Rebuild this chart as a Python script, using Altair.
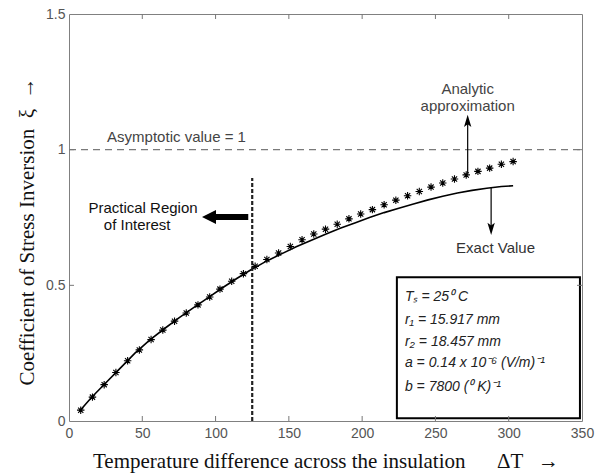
import altair as alt
import pandas as pd

# ---- data ----
x_exact = [7, 15, 25, 35, 45, 55, 65, 75, 85, 95, 105, 115, 125, 135, 145, 155,
           165, 175, 185, 195, 205, 215, 225, 235, 245, 255, 265, 275, 285, 295, 303]
y_exact = [0.035, 0.085, 0.140, 0.195, 0.250, 0.298, 0.340, 0.380, 0.418, 0.455,
           0.492, 0.527, 0.560, 0.590, 0.616, 0.642, 0.665, 0.688, 0.710, 0.730,
           0.750, 0.768, 0.784, 0.800, 0.815, 0.828, 0.840, 0.850, 0.858, 0.864, 0.867]

x_analytic = [8, 16, 24, 32, 40, 48, 56, 64, 72, 80, 88, 96, 103, 111, 119, 127, 135,
              143, 151, 159, 167, 175, 183, 191, 199, 207, 215, 223, 231, 239, 247,
              255, 263, 271, 279, 287, 295, 303]
y_analytic = [0.040, 0.088, 0.134, 0.179, 0.222, 0.262, 0.300, 0.335, 0.368, 0.398,
              0.428, 0.457, 0.486, 0.515, 0.543, 0.570, 0.595, 0.619, 0.643, 0.668,
              0.689, 0.707, 0.725, 0.745, 0.763, 0.779, 0.797, 0.814, 0.830, 0.846,
              0.862, 0.877, 0.892, 0.907, 0.920, 0.932, 0.946, 0.956]

x_ticks = [0, 50, 100, 150, 200, 250, 300, 350]
y_ticks = [0, 0.5, 1, 1.5]
x_inner_ticks = [50, 100, 150, 200, 250, 300]
y_inner_ticks = [0.5, 1]

asymptote = 1
practical_limit = 125

box_lines = ["Tₛ = 25⁰ C", "r₁ = 15.917 mm", "r₂ = 18.457 mm",
             "a = 0.14 x 10⁻⁶ (V/m)⁻¹", "b = 7800 (⁰ K)⁻¹"]
box_line_y = [0.458, 0.372, 0.292, 0.214, 0.125]

X_TITLE = "Temperature difference across the insulation\u2003\u2002ΔT\u2002\u2009→"
Y_TITLE = "Coefficient of Stress Inversion\u2002ξ\u2002→"

W, H = 513, 407

xs = alt.Scale(domain=[0, 350], nice=False, zero=False)
ys = alt.Scale(domain=[0, 1.5], nice=False, zero=False)

X_AXIS = alt.Axis(
    values=x_ticks, title=X_TITLE, grid=False, domain=False, ticks=False, tickSize=0,
    labelFont="Liberation Sans", labelFontSize=14, labelColor="#555",
    labelPadding=5, labelFlush=False,
    titleFont="Liberation Serif", titleFontSize=21, titleFontWeight="normal",
    titleColor="#111", titleY=46, titleBaseline="alphabetic")
Y_AXIS = alt.Axis(
    values=y_ticks, format=".1~f", title=Y_TITLE, grid=False, domain=False,
    ticks=False, tickSize=0,
    labelFont="Liberation Sans", labelFontSize=14, labelColor="#555",
    labelPadding=4, labelFlush=False,
    titleFont="Liberation Serif", titleFontSize=21, titleFontWeight="normal",
    titleColor="#111", titleX=-36, titleY=217, titleBaseline="alphabetic")

def X(field="x"):
    return alt.X(f"{field}:Q", scale=xs, axis=X_AXIS)

def Y(field="y"):
    return alt.Y(f"{field}:Q", scale=ys, axis=Y_AXIS)

df_exact = pd.DataFrame({"x": x_exact, "y": y_exact})
df_an = pd.DataFrame({"x": x_analytic, "y": y_analytic})

exact = alt.Chart(df_exact).mark_line(color="black", strokeWidth=1.6).encode(x=X(), y=Y())

ASTERISK = "M-1,0L1,0M0,-1L0,1M-0.7,-0.7L0.7,0.7M-0.7,0.7L0.7,-0.7"
analytic = alt.Chart(df_an).mark_point(
    shape=ASTERISK, filled=False, color="black", strokeWidth=1.1, size=56, opacity=1
).encode(x=X(), y=Y())

# asymptote
hline = alt.Chart(pd.DataFrame({"x": [0], "x2": [350], "y": [asymptote]})).mark_rule(
    color="#7a7a7a", strokeDash=[7, 5], strokeWidth=1.2
).encode(x=X(), x2="x2:Q", y=Y())

# practical region boundary
vline = alt.Chart(pd.DataFrame({"x": [practical_limit], "y": [0], "y2": [0.896]})).mark_rule(
    color="#222", strokeDash=[4, 2], strokeWidth=2.2
).encode(x=X(), y=Y(), y2="y2:Q")

# thick left arrow
big_body = alt.Chart(pd.DataFrame({"x": [96], "x2": [122.3], "y": [0.752]})).mark_rule(
    color="black", strokeWidth=6
).encode(x=X(), x2="x2:Q", y=Y())
big_head = alt.Chart(pd.DataFrame({"x": [95.5], "y": [0.752]})).mark_point(
    shape="M-1,0L1,-1L1,1Z", filled=True, color="black", size=196, opacity=1
).encode(x=X(), y=Y())

# thin arrows
thin_rules = alt.Chart(pd.DataFrame({"x": [272, 288], "y": [0.914, 0.859], "y2": [1.11, 0.70]})).mark_rule(
    color="black", strokeWidth=1.2
).encode(x=X(), y=Y(), y2="y2:Q")
head_up = alt.Chart(pd.DataFrame({"x": [272], "y": [1.106]})).mark_point(
    shape="M0,-1L0.6,1L0,0.55L-0.6,1Z", filled=True, color="black", size=150, opacity=1
).encode(x=X(), y=Y())
head_down = alt.Chart(pd.DataFrame({"x": [288], "y": [0.708]})).mark_point(
    shape="M0,1L0.6,-1L0,-0.55L-0.6,-1Z", filled=True, color="black", size=150, opacity=1
).encode(x=X(), y=Y())

# parameter box
box = alt.Chart(pd.DataFrame({"x": [223.7], "x2": [348.6], "y": [0.01], "y2": [0.53]})).mark_rect(
    fill="white", stroke="black", strokeWidth=2
).encode(x=X(), x2="x2:Q", y=Y(), y2="y2:Q")
box_text = alt.Chart(pd.DataFrame({"x": [229.2] * len(box_lines), "y": box_line_y, "t": box_lines})).mark_text(
    align="left", baseline="middle", font="Liberation Sans", fontStyle="italic",
    fontSize=14, color="#222"
).encode(x=X(), y=Y(), text="t:N")

# inner ticks (matlab style)
tx = pd.DataFrame({"x": x_inner_ticks})
ty = pd.DataFrame({"y": y_inner_ticks})
tick_b = alt.Chart(tx).mark_rule(color="#777", strokeWidth=1).encode(
    x=X(), y=alt.value(H), y2=alt.value(H - 5))
tick_t = alt.Chart(tx).mark_rule(color="#777", strokeWidth=1).encode(
    x=X(), y=alt.value(0), y2=alt.value(5))
tick_l = alt.Chart(ty).mark_rule(color="#777", strokeWidth=1).encode(
    y=Y(), x=alt.value(0), x2=alt.value(5))
tick_r = alt.Chart(ty).mark_rule(color="#777", strokeWidth=1).encode(
    y=Y(), x=alt.value(W), x2=alt.value(W - 5))

# annotations
def label(x, y, text, align="left", color="#333", size=15, weight="normal"):
    return alt.Chart(pd.DataFrame({"x": [x], "y": [y], "t": [text]})).mark_text(
        align=align, baseline="middle", font="Liberation Sans", fontSize=size,
        color=color, fontWeight=weight
    ).encode(x=X(), y=Y(), text="t:N")

t_asym = label(26, 1.045, "Asymptotic value = 1", color="#444")
t_an1 = label(272, 1.225, "Analytic", align="center", color="#444")
t_an2 = label(272, 1.16, "approximation", align="center", color="#444")
t_pr1 = label(50.5, 0.785, "Practical Region", align="center", color="#111")
t_pr2 = label(46.5, 0.722, "of Interest", align="center", color="#111")
t_ex = label(291, 0.637, "Exact Value", align="center", color="#333")

chart = alt.layer(
    exact, hline, vline, analytic, big_body, big_head, thin_rules, head_up, head_down,
    box, box_text, tick_b, tick_t, tick_l, tick_r,
    t_asym, t_an1, t_an2, t_pr1, t_pr2, t_ex
).properties(
    width=W, height=H,
    padding={"left": 69, "top": 14, "right": 23, "bottom": 53},
    autosize=alt.AutoSizeParams(type="none"),
    background="white",
).configure_view(stroke="#808080", strokeWidth=1)

chart.save("out.html", embed_options={"renderer": "svg", "actions": False})
